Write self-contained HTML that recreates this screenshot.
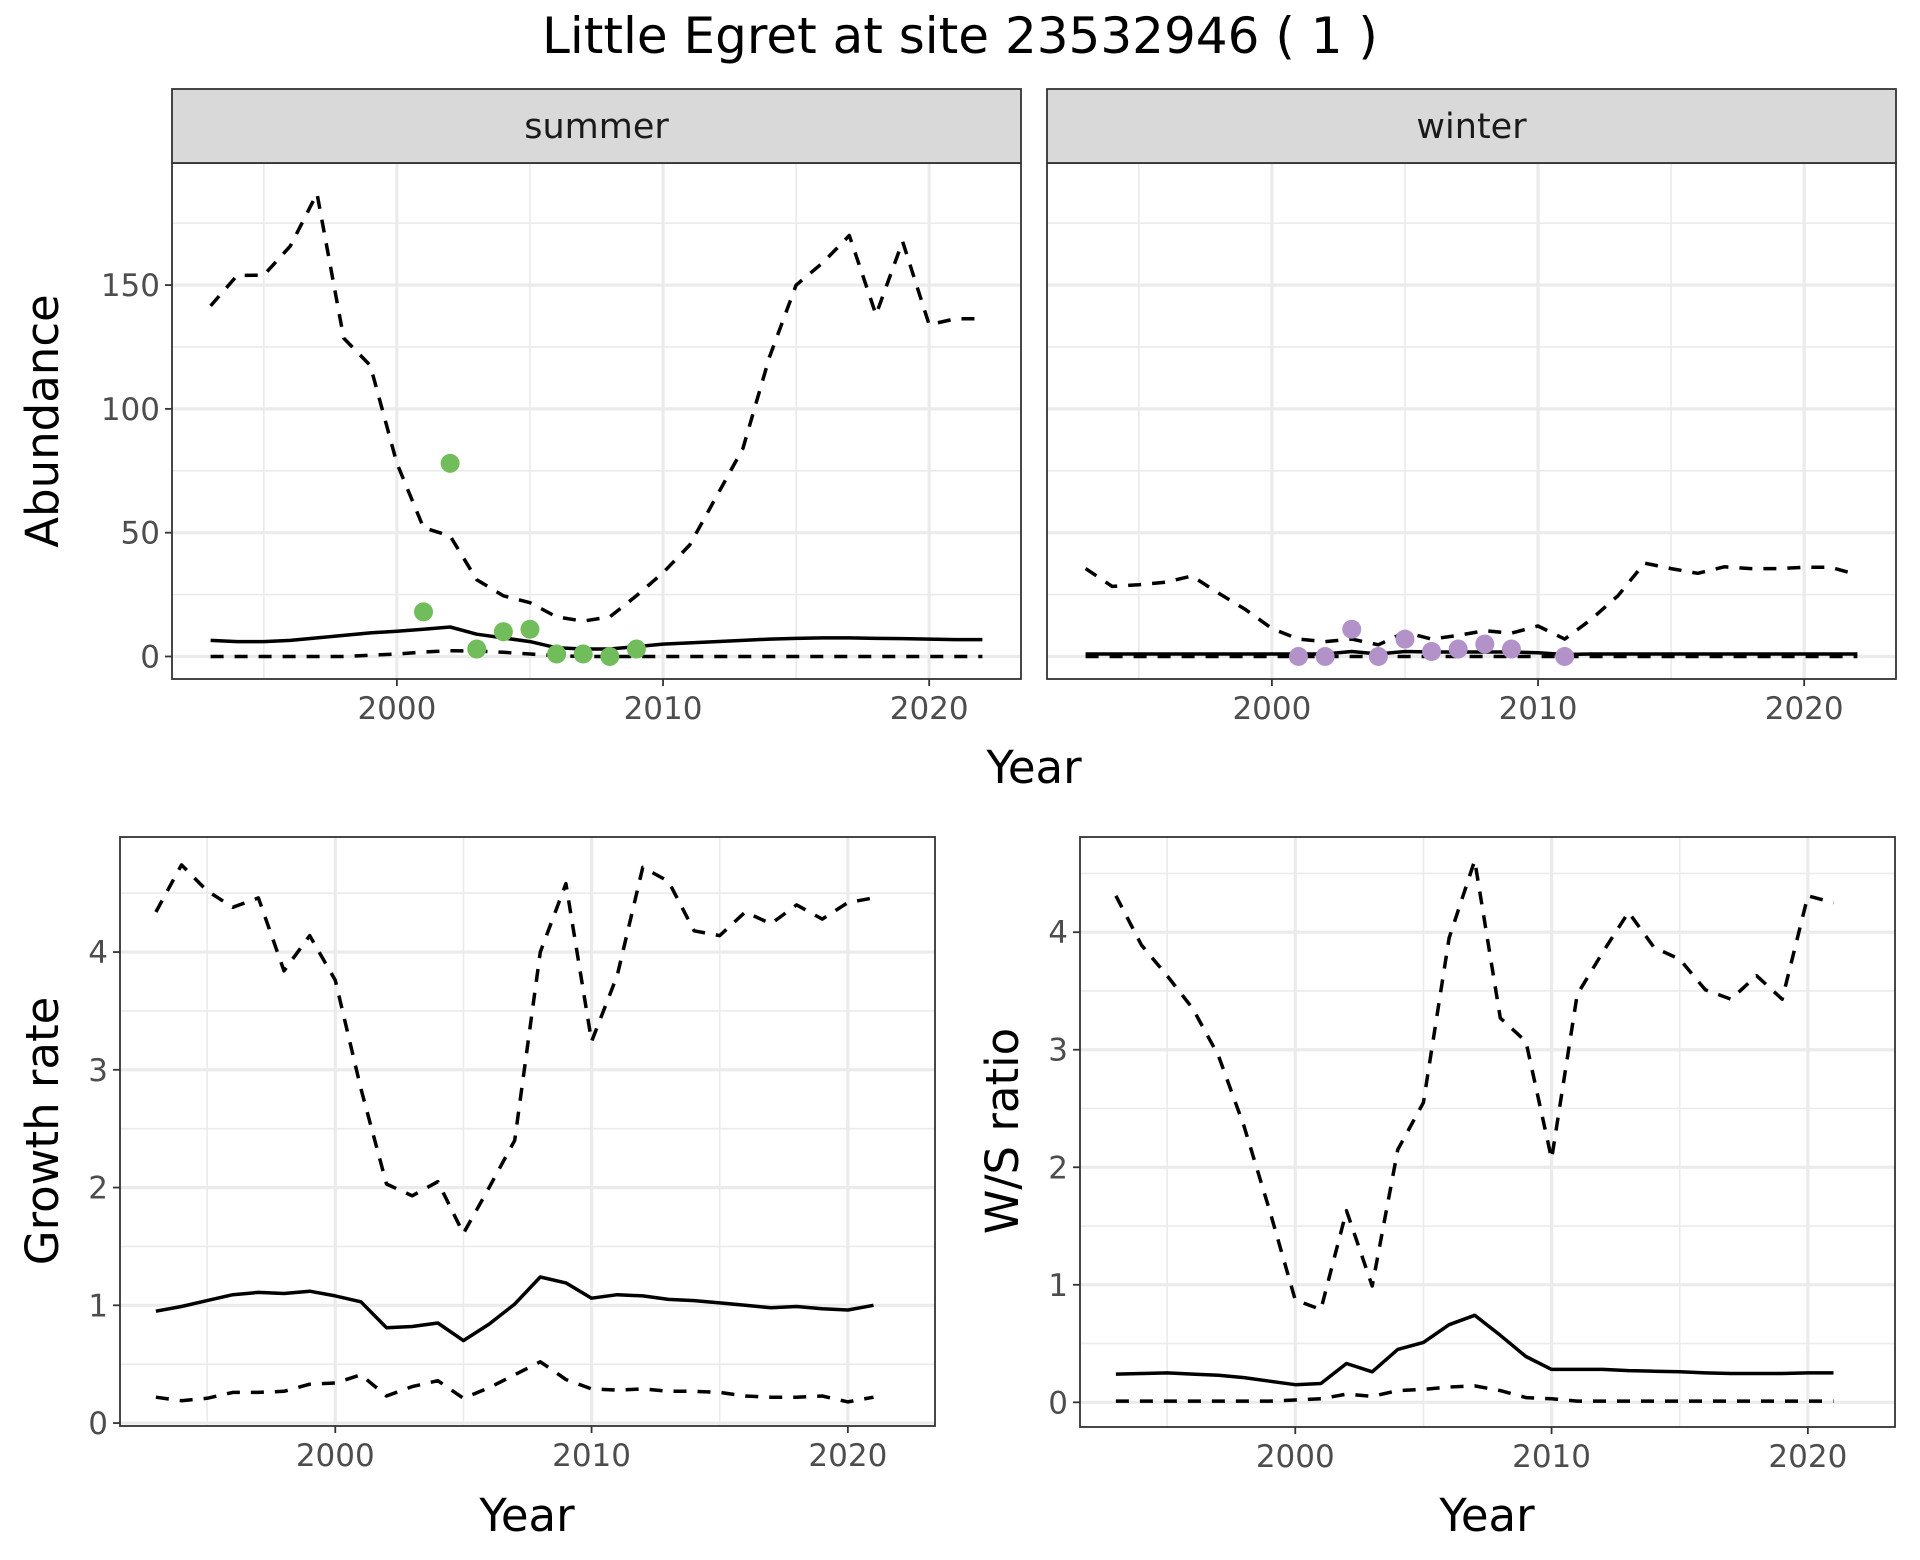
<!DOCTYPE html>
<html><head><meta charset="utf-8"><style>
html,body{margin:0;padding:0;background:#fff;}
svg{display:block;font-family:"DejaVu Sans","Liberation Sans",sans-serif;}
</style></head><body>
<svg id="chart" width="1920" height="1560" viewBox="0 0 1920 1560" xmlns="http://www.w3.org/2000/svg">
<rect width="1920" height="1560" fill="#fff"/>
<text x="960" y="53" text-anchor="middle" font-size="50" fill="#000">Little Egret at site 23532946 ( 1 )</text>
</svg>
<script>
// ---------- data ----------
const yearsAbund = [1993,1994,1995,1996,1997,1998,1999,2000,2001,2002,2003,2004,2005,2006,2007,2008,2009,2010,2011,2012,2013,2014,2015,2016,2017,2018,2019,2020,2021,2022];
const summerUpper = [141.6,153.9,154,165.8,187,128.6,117.5,78,52,48.7,31,24.5,21.7,16,14.3,16,24.5,33.8,45,64.5,84,121,150,159,170,138,167.6,134,136.4,136.4];
const summerMean = [6.5,6,6,6.5,7.5,8.5,9.5,10.2,11,11.9,9,7.5,6,3.5,3,3,4,5,5.5,6,6.5,7,7.3,7.5,7.5,7.3,7.2,7,6.8,6.8];
const summerLower = [0,0,0,0,0,0,0.5,1,1.8,2.3,2.2,1.7,1,0.3,0,0,0,0,0,0,0,0,0,0,0,0,0,0,0,0];
const summerObsYears = [2001,2002,2003,2004,2005,2006,2007,2008,2009];
const summerObs = [18,78,3,10,11,1,1,0,3];
const winterUpper = [35.5,28.3,29,30,32.5,25.5,19,11.3,7,6,7,4.7,9.8,7,8.5,10.4,9.4,12.3,7,15,24.5,37.7,35.5,33.6,36.2,35.5,35.5,36,36,33];
const winterMean = [1,1,1,1,1,1,1,1,1,1,2,1,2,1.8,1.8,1.8,1.8,1.5,0.8,1,1,1,1,1,1,1,1,1,1,1];
const winterLower = [0,0,0,0,0,0,0,0,0,0,0,0,0,0,0,0,0,0,0,0,0,0,0,0,0,0,0,0,0,0];
const winterObsYears = [2001,2002,2003,2004,2005,2006,2007,2008,2009,2011];
const winterObs = [0,0,11,0,7,2,3,5,3,0];
const yearsRate = [1993,1994,1995,1996,1997,1998,1999,2000,2001,2002,2003,2004,2005,2006,2007,2008,2009,2010,2011,2012,2013,2014,2015,2016,2017,2018,2019,2020,2021];
const growthUpper = [4.34,4.74,4.52,4.38,4.46,3.84,4.14,3.76,2.84,2.03,1.93,2.05,1.61,2.0,2.4,4.0,4.58,3.24,3.8,4.72,4.6,4.18,4.14,4.34,4.24,4.4,4.28,4.42,4.46];
const growthMean = [0.95,0.99,1.04,1.09,1.11,1.10,1.12,1.08,1.03,0.81,0.82,0.85,0.70,0.84,1.01,1.24,1.19,1.06,1.09,1.08,1.05,1.04,1.02,1.0,0.98,0.99,0.97,0.96,1.0];
const growthLower = [0.22,0.19,0.21,0.26,0.26,0.27,0.33,0.34,0.41,0.23,0.31,0.36,0.21,0.3,0.41,0.52,0.37,0.29,0.28,0.29,0.27,0.27,0.26,0.23,0.22,0.22,0.23,0.18,0.22];
const wsUpper = [4.31,3.89,3.63,3.35,2.95,2.35,1.63,0.87,0.79,1.63,0.99,2.15,2.55,3.95,4.61,3.27,3.07,2.07,3.47,3.83,4.17,3.87,3.77,3.51,3.43,3.63,3.43,4.31,4.25];
const wsMean = [0.24,0.245,0.25,0.24,0.23,0.21,0.18,0.15,0.16,0.33,0.26,0.45,0.51,0.66,0.74,0.57,0.39,0.28,0.28,0.28,0.27,0.265,0.26,0.25,0.245,0.245,0.245,0.25,0.25];
const wsLower = [0.01,0.01,0.01,0.01,0.01,0.01,0.01,0.02,0.03,0.07,0.05,0.1,0.11,0.13,0.14,0.1,0.04,0.03,0.01,0.01,0.01,0.01,0.01,0.01,0.01,0.01,0.01,0.01,0.01];
const xTicks = [2000,2010,2020];
const xMinor = [1995,2005,2015];
const abundTicks = [0,50,100,150];
const abundMinor = [25,75,125,175];
const growthTicks = [0,1,2,3,4];
const growthMinor = [0.5,1.5,2.5,3.5,4.5];
const wsTicks = [0,1,2,3,4];
const wsMinor = [0.5,1.5,2.5,3.5,4.5];

// ---------- helpers ----------
const NS = "http://www.w3.org/2000/svg";
const svg = document.getElementById('chart');
function mk(tag, attrs, parent){
  const e = document.createElementNS(NS, tag);
  for (const k in attrs) e.setAttribute(k, attrs[k]);
  (parent||svg).appendChild(e);
  return e;
}
function makeScale(d0,d1,r0,r1){ return v => r0 + (v-d0)/(d1-d0)*(r1-r0); }

function panel(cfg){
  const g = mk('g',{});
  
  
  const X = makeScale(cfg.xd[0],cfg.xd[1],cfg.L,cfg.R);
  const Y = makeScale(cfg.yd[0],cfg.yd[1],cfg.B,cfg.T);
  mk('rect',{x:cfg.L,y:cfg.T,width:cfg.R-cfg.L,height:cfg.B-cfg.T,fill:'#fff'},g);
  cfg.yMinor.forEach(v=>{ if(Y(v)>cfg.T) mk('line',{x1:cfg.L,x2:cfg.R,y1:Y(v),y2:Y(v),stroke:'#ebebeb','stroke-width':1.6},g); });
  xMinor.forEach(v=>{ mk('line',{x1:X(v),x2:X(v),y1:cfg.T,y2:cfg.B,stroke:'#ebebeb','stroke-width':1.6},g); });
  cfg.yTicks.forEach(v=>{ mk('line',{x1:cfg.L,x2:cfg.R,y1:Y(v),y2:Y(v),stroke:'#ebebeb','stroke-width':3.2},g); });
  xTicks.forEach(v=>{ mk('line',{x1:X(v),x2:X(v),y1:cfg.T,y2:cfg.B,stroke:'#ebebeb','stroke-width':3.2},g); });
  const line = (ys, arr, dashed, nm) => {
    const p = mk('path',{d: ys.map((yr,i)=>(i?'L':'M')+X(yr).toFixed(1)+','+Y(arr[i]).toFixed(1)).join(''),fill:'none',stroke:'#000','stroke-width':3.5,'stroke-dasharray':dashed?'13,11':'none','stroke-linejoin':'round'},g);
    
    
  };
  line(cfg.years,cfg.upper,true,'upper-ci-line');
  line(cfg.years,cfg.lower,true,'lower-ci-line');
  line(cfg.years,cfg.mean,false,'mean-line');
  if (cfg.obs){
    cfg.obsYears.forEach((yr,i)=>{
      const c = mk('circle',{cx:X(yr),cy:Y(cfg.obs[i]),r:9.5,fill:cfg.color},g);
      
      
    });
  }
  mk('rect',{x:cfg.L,y:cfg.T,width:cfg.R-cfg.L,height:cfg.B-cfg.T,fill:'none',stroke:'#333','stroke-width':1.8},g);
  if (cfg.yLabels){
    cfg.yTicks.forEach(v=>{
      mk('line',{x1:cfg.L-7,x2:cfg.L,y1:Y(v),y2:Y(v),stroke:'#333','stroke-width':1.8},g);
      const t = mk('text',{x:cfg.L-12,y:Y(v)+11,'text-anchor':'end','font-size':31,fill:'#4d4d4d'},g);
      t.textContent = v;
      
      
    });
  }
  xTicks.forEach(v=>{
    mk('line',{x1:X(v),x2:X(v),y1:cfg.B,y2:cfg.B+7,stroke:'#333','stroke-width':1.8},g);
    const t = mk('text',{x:X(v),y:cfg.B+40,'text-anchor':'middle','font-size':31,fill:'#4d4d4d'},g);
    t.textContent = v;
    
    
  });
  if (cfg.strip){
    const s = mk('rect',{x:cfg.L,y:cfg.T-74,width:cfg.R-cfg.L,height:74,fill:'#d9d9d9',stroke:'#333','stroke-width':1.8},g);
    
    
    const t = mk('text',{x:(cfg.L+cfg.R)/2,y:cfg.T-25,'text-anchor':'middle','font-size':35,fill:'#1a1a1a'},g);
    t.textContent = cfg.strip;
    
    
  }
  return g;
}

const absY = [-9.1,199.3];
panel({name:'summer-panel',L:172,R:1021,T:163,B:679,xd:[1991.55,2023.45],yd:absY,years:yearsAbund,upper:summerUpper,mean:summerMean,lower:summerLower,obs:summerObs,obsYears:summerObsYears,color:'#71bc5b',yTicks:abundTicks,yMinor:abundMinor,yLabels:true,strip:'summer'});
panel({name:'winter-panel',L:1047,R:1896,T:163,B:679,xd:[1991.55,2023.45],yd:absY,years:yearsAbund,upper:winterUpper,mean:winterMean,lower:winterLower,obs:winterObs,obsYears:winterObsYears,color:'#b392c9',yTicks:abundTicks,yMinor:abundMinor,yLabels:false,strip:'winter'});
panel({name:'growth-rate-panel',L:120,R:935,T:837,B:1426,xd:[1991.6,2023.4],yd:[-0.025,4.977],years:yearsRate,upper:growthUpper,mean:growthMean,lower:growthLower,yTicks:growthTicks,yMinor:growthMinor,yLabels:true});
panel({name:'ws-ratio-panel',L:1080,R:1895,T:837,B:1427,xd:[1991.6,2023.4],yd:[-0.21,4.81],years:yearsRate,upper:wsUpper,mean:wsMean,lower:wsLower,yTicks:wsTicks,yMinor:wsMinor,yLabels:true});

function label(txt,x,y,rot,nm){
  const t = mk('text',{x:x,y:y,'text-anchor':'middle','font-size':45,fill:'#000',transform:rot?`rotate(-90 ${x} ${y})`:''});
  t.textContent = txt;
  
  
}
label('Year',1034,783,false,'x-axis-title-top');
label('Abundance',58,421,true,'y-axis-title-abundance');
label('Year',527,1531,false,'x-axis-title-growth');
label('Growth rate',58,1131,true,'y-axis-title-growth');
label('Year',1487,1531,false,'x-axis-title-ws');
label('W/S ratio',1018,1131,true,'y-axis-title-ws');
</script>
</body></html>
